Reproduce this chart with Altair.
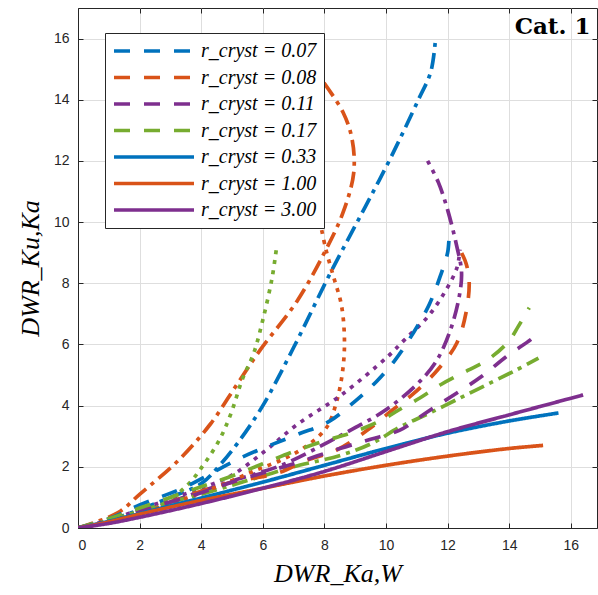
import altair as alt
import pandas as pd

# ---------------- data ----------------
# dash-dot family
blue_dashdot_x = [0, 1, 2, 3, 4, 4.6, 5.2, 6.0, 7.0, 8.2, 9.3, 10.15, 11.05, 11.45, 11.6]
blue_dashdot_y = [0, 0.25, 0.6, 1.0, 1.45, 2.05, 2.8, 4.0, 5.9, 8.35, 10.45, 12.1, 14.0, 14.9, 15.9]
orange_dashdot_x = [0, 1.3, 2, 3.25, 4.3, 5.1, 5.9, 7.1, 8.0, 8.6, 8.95, 8.9, 8.6, 7.95]
orange_dashdot_y = [0, 0.5, 1.1, 2.2, 3.4, 4.6, 5.8, 7.4, 9.0, 10.3, 11.6, 12.7, 13.6, 14.6]
purple_dashdot_x = [0, 1, 2, 3, 4.15, 5.2, 6.6, 8.2, 8.85, 9.9, 10.9, 11.6, 12.1, 12.4, 12.45, 12.3, 12.0, 11.7, 11.35]
purple_dashdot_y = [0, 0.2, 0.5, 0.85, 1.25, 1.6, 2.05, 2.85, 3.2, 3.8, 4.6, 5.4, 6.5, 7.7, 8.4, 9.2, 10.4, 11.3, 12.0]
green_dashdot_x = [0, 1, 2, 3, 4, 5, 6, 7, 8.6, 9.55, 10.45, 11.4, 12.4, 13.3, 14.2, 14.95]
green_dashdot_y = [0, 0.25, 0.55, 0.85, 1.1, 1.4, 1.7, 2.0, 2.4, 2.77, 3.3, 3.75, 4.25, 4.7, 5.15, 5.55]

# dotted family
green_dot_x = [0, 1, 2, 2.7, 3.55, 4.1, 4.6, 4.95, 5.35, 5.7, 6.0, 6.3, 6.45]
green_dot_y = [0, 0.2, 0.45, 0.75, 1.4, 2.1, 2.9, 3.7, 4.9, 5.7, 6.8, 8.17, 9.2]
orange_dot_x = [0, 1, 2, 3, 4, 5, 5.8, 6.55, 7.3, 8.06, 8.4, 8.6, 8.65, 8.55, 8.3, 8.05, 7.85]
orange_dot_y = [0, 0.2, 0.45, 0.8, 1.15, 1.55, 1.9, 2.2, 2.6, 3.27, 4.15, 5.2, 6.2, 7.3, 8.2, 9.1, 10.05]
purple_dot_x = [0, 1, 2, 3, 4, 4.95, 6.05, 7.1, 8.55, 10.05, 10.6, 11.35, 11.9, 12.3, 12.4]
purple_dot_y = [0, 0.25, 0.6, 0.95, 1.3, 1.7, 2.5, 3.37, 4.35, 5.6, 6.15, 6.9, 7.7, 8.5, 9.1]

# dashed family (legend entries)
blue_dash_x = [0, 1, 2, 3.5, 5.3, 7.1, 8.1, 9.0, 9.7, 10.3, 10.9, 11.4, 11.75, 12.0, 12.05]
blue_dash_y = [0, 0.3, 0.75, 1.35, 2.3, 3.05, 3.45, 4.15, 4.8, 5.5, 6.4, 7.3, 8.2, 9.0, 9.6]
orange_dash_x = [0, 1, 2, 3, 4, 5, 6.5, 7.4, 8.4, 9.4, 10.2, 10.9, 11.7, 12.3, 12.6, 12.7, 12.6, 12.4]
orange_dash_y = [0, 0.2, 0.5, 0.85, 1.2, 1.5, 1.8, 2.2, 2.55, 3.2, 3.85, 4.4, 5.2, 6.05, 7.05, 8.05, 8.65, 9.1]
purple_dash_x = [0, 1, 2, 3, 4, 5, 6, 7, 8.5, 9.5, 10.45, 11.35, 12.2, 13.1, 13.9, 14.75, 14.95]
purple_dash_y = [0, 0.25, 0.55, 0.85, 1.15, 1.5, 1.8, 2.1, 2.6, 2.9, 3.2, 3.8, 4.35, 4.95, 5.6, 6.2, 6.4]
green_dash_x = [0, 1, 2, 3, 4, 5, 6, 7, 8.0, 8.85, 9.9, 10.4, 11.1, 11.8, 12.65, 13.3, 13.98, 14.3, 14.65]
green_dash_y = [0, 0.3, 0.65, 1.0, 1.35, 1.7, 2.1, 2.5, 2.85, 3.1, 3.55, 3.85, 4.25, 4.7, 5.15, 5.5, 6.1, 6.6, 7.2]

# solid family (legend entries)
blue_solid_x = [0, 1, 2, 4, 6, 8, 10, 12, 14, 15.6]
blue_solid_y = [0, 0.22, 0.47, 0.98, 1.5, 2.05, 2.6, 3.1, 3.5, 3.76]
orange_solid_x = [0, 1, 2, 4, 6, 8, 10, 12, 14, 15.1]
orange_solid_y = [0, 0.2, 0.45, 0.9, 1.3, 1.7, 2.05, 2.35, 2.6, 2.7]
purple_solid_x = [0, 1, 2, 4, 6, 8, 10, 12, 14, 16.4]
purple_solid_y = [0, 0.15, 0.35, 0.8, 1.3, 1.85, 2.5, 3.15, 3.7, 4.35]

legend_labels = ["r_cryst = 0.07", "r_cryst = 0.08", "r_cryst = 0.11", "r_cryst = 0.17",
                 "r_cryst = 0.33", "r_cryst = 1.00", "r_cryst = 3.00"]
tick_values = [0, 2, 4, 6, 8, 10, 12, 14, 16]
x_domain = [0, 16.85]
y_domain = [0, 17]

# ---------------- styles ----------------
BLUE, ORANGE, PURPLE, GREEN = "#0072BD", "#D95319", "#7E2F8E", "#77AC30"
DASH = [16, 14]
DOT = [4, 6]
DASHDOT = [16, 6, 4, 6]
SOLID = [1, 0]

curves = [
    ("dash-dot A", BLUE, DASHDOT, blue_dashdot_x, blue_dashdot_y),
    ("dash-dot B", ORANGE, DASHDOT, orange_dashdot_x, orange_dashdot_y),
    ("dash-dot C", PURPLE, DASHDOT, purple_dashdot_x, purple_dashdot_y),
    ("dash-dot D", GREEN, DASHDOT, green_dashdot_x, green_dashdot_y),
    ("dotted A", GREEN, DOT, green_dot_x, green_dot_y),
    ("dotted B", ORANGE, DOT, orange_dot_x, orange_dot_y),
    ("dotted C", PURPLE, DOT, purple_dot_x, purple_dot_y),
    (legend_labels[0], BLUE, DASH, blue_dash_x, blue_dash_y),
    (legend_labels[1], ORANGE, DASH, orange_dash_x, orange_dash_y),
    (legend_labels[2], PURPLE, DASH, purple_dash_x, purple_dash_y),
    (legend_labels[3], GREEN, DASH, green_dash_x, green_dash_y),
    (legend_labels[4], BLUE, SOLID, blue_solid_x, blue_solid_y),
    (legend_labels[5], ORANGE, SOLID, orange_solid_x, orange_solid_y),
    (legend_labels[6], PURPLE, SOLID, purple_solid_x, purple_solid_y),
]

rows = []
for name, _, _, xs, ys in curves:
    for i, (a, b) in enumerate(zip(xs, ys)):
        rows.append({"series": name, "i": i, "x": a, "y": b})
df = pd.DataFrame(rows)

names = [c[0] for c in curves]
colors = [c[1] for c in curves]
dashes = [c[2] for c in curves]

W, H = 519, 520
AX = "#262626"
xscale = alt.Scale(domain=x_domain, nice=False, zero=False)
yscale = alt.Scale(domain=y_domain, nice=False, zero=False)

leg = alt.Legend(
    values=legend_labels, title=None, orient="none", legendX=27, legendY=25,
    symbolType="stroke", symbolSize=6400, symbolStrokeWidth=3.7, clipHeight=22,
    labelFont="Liberation Serif", labelFontSize=20, labelFontStyle="italic",
    labelColor="black", labelOffset=5, strokeColor=AX, fillColor="white",
    padding=7, rowPadding=4.5, labelLimit=300,
)

common_axis = dict(values=tick_values, labelFont="Liberation Sans", labelFontSize=14,
                   labelColor=AX, domainColor=AX, gridColor="#dedede", gridWidth=1,
                   titleFont="Liberation Serif", titleFontSize=26, titleFontStyle="italic",
                   titleFontWeight="normal", titleColor="black")

lines = alt.Chart(df).mark_line(strokeWidth=3.7, interpolate="catmull-rom", strokeCap="butt", clip=True).encode(
    x=alt.X("x:Q", scale=xscale,
            axis=alt.Axis(title="DWR_Ka,W", grid=True, ticks=False, labelPadding=10, titlePadding=8, **common_axis)),
    y=alt.Y("y:Q", scale=yscale,
            axis=alt.Axis(title="DWR_Ku,Ka", grid=True, ticks=False, labelPadding=9, titlePadding=10, **common_axis)),
    color=alt.Color("series:N", scale=alt.Scale(domain=names, range=colors), legend=leg),
    strokeDash=alt.StrokeDash("series:N", scale=alt.Scale(domain=names, range=dashes), legend=leg),
    order=alt.Order("i:Q"),
)

tick_axis = dict(values=tick_values, labels=False, domain=False, grid=False, ticks=True,
                 tickSize=5, tickColor=AX, tickWidth=1, title=None)

inner_a = alt.Chart(df).mark_point(opacity=0).encode(
    x=alt.X("x:Q", scale=xscale, axis=alt.Axis(orient="top", offset=-H, **tick_axis)),
    y=alt.Y("y:Q", scale=yscale, axis=alt.Axis(orient="right", offset=-W, **tick_axis)),
)
inner_b = alt.Chart(df).mark_point(opacity=0).encode(
    x=alt.X("x:Q", scale=xscale, axis=alt.Axis(orient="bottom", offset=-H, **tick_axis)),
    y=alt.Y("y:Q", scale=yscale, axis=alt.Axis(orient="left", offset=-W, **tick_axis)),
)

chart = alt.layer(lines, inner_a, inner_b).resolve_axis(
    x="independent", y="independent"
).properties(
    width=W, height=H, autosize="none",
    padding={"left": 78, "top": 8, "right": 1, "bottom": 67},
    background="white",
    title=alt.TitleParams("Cat. 1", anchor="end", font="DejaVu Serif", fontSize=23,
                          fontWeight="bold", color="black", offset=-31, dx=-7),
).configure_view(stroke=AX, strokeWidth=1)

chart.save("out.html", embed_options={"renderer": "svg", "actions": False})
